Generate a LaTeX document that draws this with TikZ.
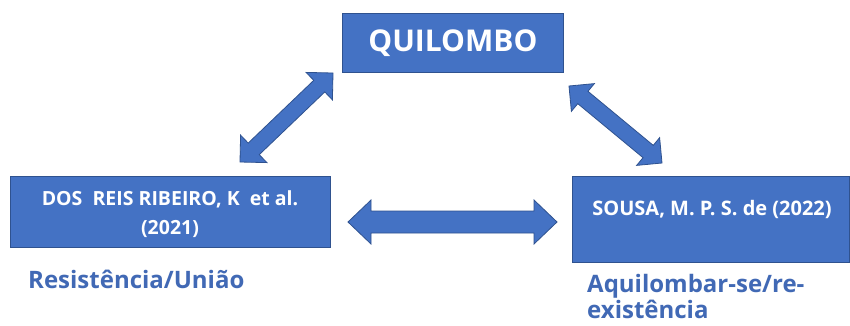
\documentclass[tikz,border=0pt]{standalone}
\usepackage{fontspec}
\setmainfont{Open Sans}
\usetikzlibrary{calc}
\definecolor{boxblue}{HTML}{4472C4}
\definecolor{edgeblue}{HTML}{2F528F}
\definecolor{labelblue}{HTML}{4169B5}
\tikzset{
  box/.style={fill=boxblue, draw=edgeblue, line width=0.8pt, inner sep=0pt, anchor=north west},
  boxtext/.style={text=white, font=\bfseries, inner sep=0pt, align=center},
  lbl/.style={text=labelblue, font=\bfseries\fontsize{24}{26}\selectfont, inner sep=0pt, anchor=base west, align=left},
  barrow/.style={fill=boxblue, draw=edgeblue, line width=0.8pt, line join=miter}
}
% start, end, head half width, shaft half width, head length
\newcommand{\blockdarrow}[5]{%
  \draw[barrow] (#1)
  -- ($(#1)!#5!(#2)!#3!90:(#2)$)
  -- ($(#1)!#5!(#2)!#4!90:(#2)$)
  -- ($(#2)!#5!(#1)!#4!-90:(#1)$)
  -- ($(#2)!#5!(#1)!#3!-90:(#1)$)
  -- (#2)
  -- ($(#2)!#5!(#1)!#3!90:(#1)$)
  -- ($(#2)!#5!(#1)!#4!90:(#1)$)
  -- ($(#1)!#5!(#2)!#4!-90:(#2)$)
  -- ($(#1)!#5!(#2)!#3!-90:(#2)$)
  -- cycle;}
\begin{document}
\begin{tikzpicture}[x=1pt,y=-1pt]
\useasboundingbox[fill=white] (0,0) rectangle (850,325);
% boxes
\node[box, minimum width=221pt, minimum height=59pt] (quilombo) at (342,13) {};
\node[box, minimum width=320pt, minimum height=71pt] (ribeiro) at (10,176) {};
\node[box, minimum width=277pt, minimum height=86pt] (sousa) at (572,176) {};
% box texts
\node[boxtext, font=\bfseries\fontsize{30}{32}\selectfont] (tq) at (quilombo.center) {QUILOMBO};
\node[boxtext, font=\bfseries\fontsize{19.5}{29}\selectfont, anchor=base] (tr) at (170,234) {DOS\ \ REIS RIBEIRO, K\ \ et al.\\(2021)};
\node[boxtext, font=\bfseries\fontsize{20}{22}\selectfont, anchor=base] (ts) at (712,215) {SOUSA, M. P. S. de (2022)};
% labels
\node[lbl] (l1) at (28,288) {Resistência/União};
\node[lbl] (l2) at (587,318) {Aquilombar-se/re-\\existência};
% arrow ends
\coordinate (a1) at (240,162);
\coordinate (a2) at (333,73);
\coordinate (b1) at (569,86);
\coordinate (b2) at (662,163);
\coordinate (c1) at (348,222);
\coordinate (c2) at (557,222);
\blockdarrow{a1}{a2}{19pt}{8pt}{19pt}
\blockdarrow{b1}{b2}{18pt}{8pt}{18pt}
\blockdarrow{c1}{c2}{22pt}{11pt}{23pt}
\end{tikzpicture}
\end{document}
